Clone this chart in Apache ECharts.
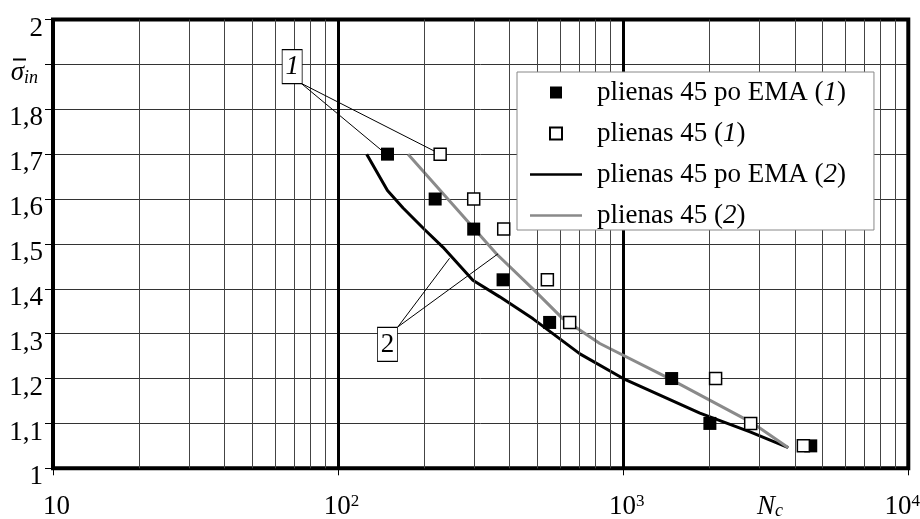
<!DOCTYPE html>
<html>
<head>
<meta charset="utf-8">
<script src="https://cdn.jsdelivr.net/npm/echarts@6/dist/echarts.min.js"></script>
<style>html,body{margin:0;padding:0;background:#fff;}#c{width:920px;height:519px;}</style>
</head>
<body>
<div id="c"></div>
<script>
// ---- data ----
var emaPtsX = [149, 219, 299, 379, 552, 1479, 2014, 4548];
var emaPtsY = [1.70, 1.60, 1.533, 1.42, 1.325, 1.20, 1.10, 1.05];
var plainPtsX = [228, 299, 381, 542, 649, 2109, 2800, 4285];
var plainPtsY = [1.70, 1.60, 1.533, 1.42, 1.325, 1.20, 1.10, 1.05];
var emaLineX = [126, 149, 169, 201, 233, 297, 369, 483, 705, 1000, 1858, 2786, 3795];
var emaLineY = [1.70, 1.619, 1.58, 1.532, 1.493, 1.419, 1.382, 1.333, 1.255, 1.20, 1.123, 1.081, 1.046];
var plainLineX = [176, 263, 359, 489, 615, 828, 1419, 2858, 3795];
var plainLineY = [1.70, 1.575, 1.478, 1.396, 1.333, 1.278, 1.203, 1.10, 1.046];
var seriesNames = ['plienas 45 po EMA (1)', 'plienas 45 (1)', 'plienas 45 po EMA (2)', 'plienas 45 (2)'];
var minorX = [20,30,40,50,60,70,80,90,200,300,400,500,600,700,800,900,2000,3000,4000,5000,6000,7000,8000,9000];
// annotation boxes and leaders (data coordinates)
var box1 = [69, 1.895], box2 = [149, 1.276];
var leader1 = [[[74.1, 1.858], [143, 1.707]], [[74.1, 1.858], [230, 1.699]]];
var leader2 = [[[162, 1.315], [246, 1.468]], [[162, 1.315], [364, 1.478]]];

function zip(xs, ys) { return xs.map(function (x, i) { return [x, ys[i]]; }); }

var FONT = 'Liberation Serif';
var SQ = 'path://M0,0L10,0L10,10L0,10Z';
var BAR = 'path://M0,0L20,0L20,1L0,1Z';
var chart = echarts.init(document.getElementById('c'));
var option = {
  backgroundColor: '#fff',
  animation: false,
  grid: { left: 53, right: 11.7, top: 19.5, bottom: 50.7, outerBoundsMode: 'none', containLabel: false,
          show: true, borderColor: '#000', borderWidth: 4, backgroundColor: 'transparent', z: 5 },
  xAxis: {
    type: 'log', logBase: 10, min: 10, max: 10000,
    axisLine: { show: false },
    axisTick: { show: true, length: 7, lineStyle: { color: '#000', width: 1 } },
    splitLine: { show: true, lineStyle: { color: '#000', width: 3 } },
    axisLabel: {
      margin: 25, color: '#000', fontFamily: FONT, fontSize: 27, padding: [0, 0, 0, 7],
      formatter: function (v) {
        var e = Math.round(Math.log10(v));
        if (e === 1) return '10';
        if (e === 4) return '10{supL|4}';
        return '10{sup|' + e + '}';
      },
      rich: {
        sup: { fontFamily: FONT, fontSize: 17, color: '#000', verticalAlign: 'top' },
        supL: { fontFamily: FONT, fontSize: 17, color: '#000', verticalAlign: 'top', padding: [0, 19, 0, 0] }
      }
    }
  },
  yAxis: {
    type: 'value', min: 1, max: 2, interval: 0.1,
    axisLine: { show: false },
    axisTick: { show: true, length: 8, lineStyle: { color: '#000', width: 1 } },
    splitLine: { show: true, lineStyle: { color: '#333', width: 1 } },
    axisLabel: {
      margin: 10, color: '#000', fontFamily: FONT, fontSize: 27, padding: [18, 0, 0, 0],
      formatter: function (v) {
        var r = Math.round(v * 10) / 10;
        if (r === 1.9) return '{s|σ}{i|in}';
        return String(r).replace('.', ',');
      },
      rich: {
        s: { fontFamily: FONT, fontSize: 27, fontStyle: 'italic', color: '#000' },
        i: { fontFamily: FONT, fontSize: 18, fontStyle: 'italic', color: '#000', verticalAlign: 'bottom', padding: [0, 5, 0, 0] }
      }
    }
  },
  legend: {
    orient: 'vertical', left: 517, top: 72,
    backgroundColor: '#fff', borderColor: '#888', borderWidth: 1,
    padding: [7, 28, 1, 13],
    itemWidth: 52, itemHeight: 12, itemGap: 14,
    symbolKeepAspect: true,
    data: [
      { name: seriesNames[0], icon: SQ },
      { name: seriesNames[1], icon: SQ },
      { name: seriesNames[2], icon: BAR },
      { name: seriesNames[3], icon: BAR }
    ],
    formatter: function (n) { return n.replace(/\((\d)\)/, '({it|$1})'); },
    textStyle: {
      fontFamily: FONT, fontSize: 27, color: '#000', padding: [0, 0, 0, 10],
      rich: { it: { fontFamily: FONT, fontSize: 27, fontStyle: 'italic', color: '#000' } }
    },
    z: 20
  },
  graphic: [
    { type: 'rect', shape: { x: 13, y: 58.5, width: 13, height: 2 }, style: { fill: '#000' }, z: 10 },
    { type: 'text', left: 757, top: 493, style: { text: '{n|N}{c|c}', rich: {
      n: { fontFamily: FONT, fontSize: 27, fontStyle: 'italic', fill: '#000' },
      c: { fontFamily: FONT, fontSize: 18, fontStyle: 'italic', fill: '#000', verticalAlign: 'bottom' } } }, z: 10 }
  ],
  series: [
    {
      name: 'minor-grid', type: 'line', data: [], silent: true, z: 1,
      markLine: {
        silent: true, symbol: 'none', label: { show: false },
        lineStyle: { color: '#444', width: 1, type: 'solid' },
        data: minorX.map(function (v) { return { xAxis: v }; })
      }
    },
    {
      name: 'leaders', type: 'line', data: [], silent: true, z: 3,
      markLine: {
        silent: true, symbol: 'none', label: { show: false },
        lineStyle: { color: '#000', width: 1, type: 'solid' },
        data: leader1.concat(leader2).map(function (s) { return [{ coord: s[0] }, { coord: s[1] }]; })
      }
    },
    {
      name: seriesNames[2], type: 'line', data: zip(emaLineX, emaLineY), symbol: 'none', showSymbol: false, z: 4,
      lineStyle: { color: '#000', width: 3 }, itemStyle: { color: '#000' }
    },
    {
      name: seriesNames[3], type: 'line', data: zip(plainLineX, plainLineY), symbol: 'none', showSymbol: false, z: 4,
      lineStyle: { color: '#8a8a8a', width: 3 }, itemStyle: { color: '#8a8a8a' }
    },
    {
      name: seriesNames[0], type: 'scatter', data: zip(emaPtsX, emaPtsY), symbol: 'rect', symbolSize: 13, z: 6,
      itemStyle: { color: '#000', opacity: 1 }
    },
    {
      name: seriesNames[1], type: 'scatter', data: zip(plainPtsX, plainPtsY), symbol: 'rect', symbolSize: 12, z: 6,
      itemStyle: { color: '#fff', borderColor: '#000', borderWidth: 1.5, opacity: 1 }
    },
    {
      name: 'boxes', type: 'scatter', silent: true, z: 7, symbol: 'rect', symbolSize: [20, 34],
      itemStyle: { color: '#fff', borderColor: '#000', borderWidth: 1, opacity: 1 },
      label: { show: true, position: 'inside', fontFamily: FONT, fontSize: 27, color: '#000', formatter: function (p) { return p.data.t; } },
      data: [
        { value: box1, t: '1', label: { fontStyle: 'italic' } },
        { value: box2, t: '2' }
      ]
    }
  ]
};
chart.setOption(option);
</script>
</body>
</html>
